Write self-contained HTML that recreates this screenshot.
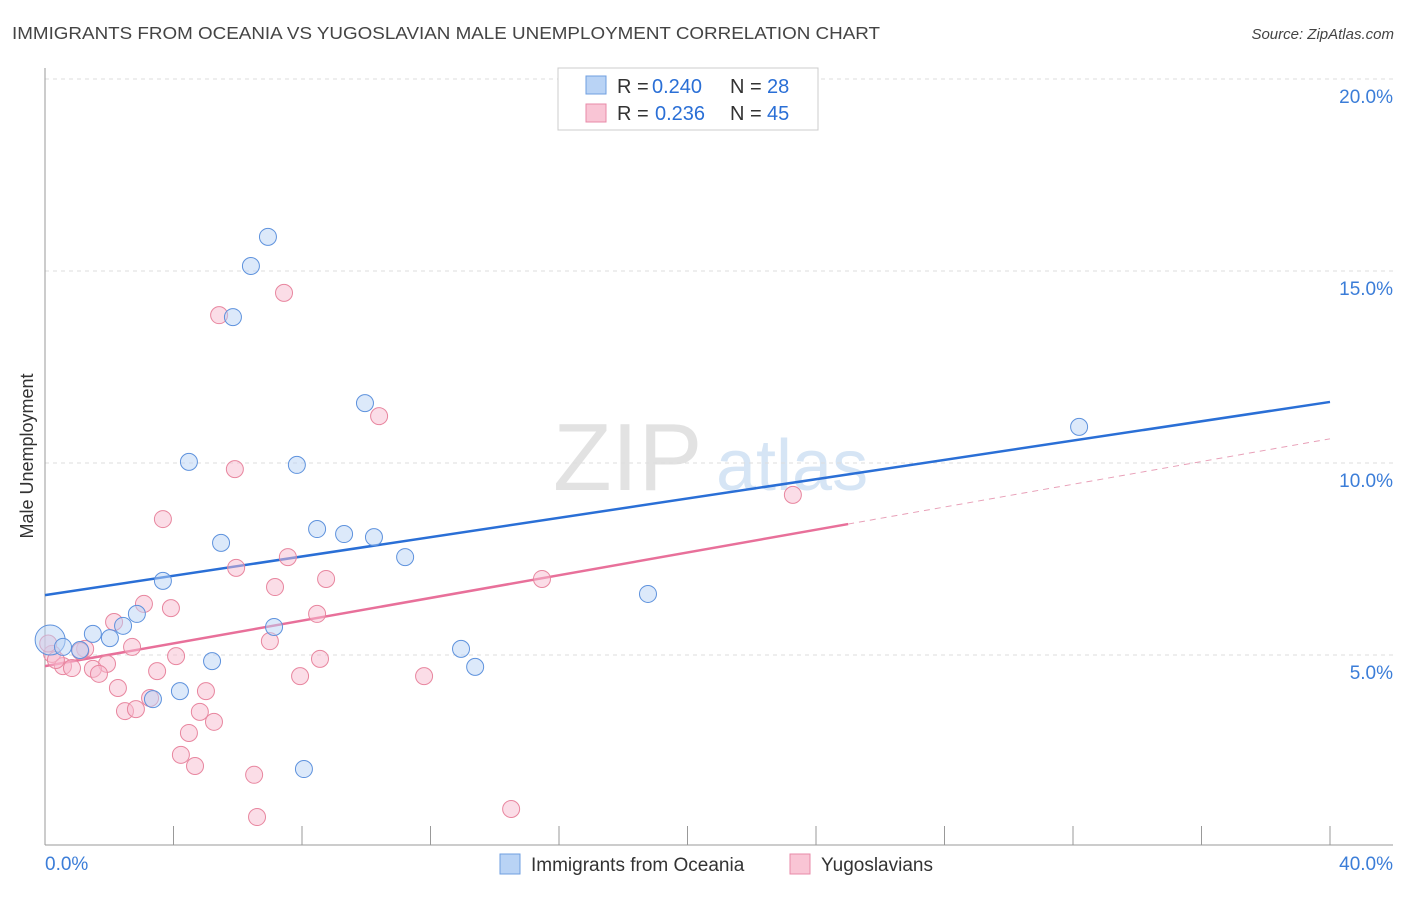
<!DOCTYPE html>
<html><head><meta charset="utf-8">
<style>
body{margin:0;background:#fff;font-family:"Liberation Sans",sans-serif;}
svg text{font-family:"Liberation Sans",sans-serif;}
</style></head>
<body>
<svg id="chart" width="1406" height="892" xmlns="http://www.w3.org/2000/svg">
<text x="12" y="39" font-size="17.5" fill="#444" textLength="868" lengthAdjust="spacingAndGlyphs">IMMIGRANTS FROM OCEANIA VS YUGOSLAVIAN MALE UNEMPLOYMENT CORRELATION CHART</text>
<text x="1394" y="39" font-size="15" fill="#444" text-anchor="end" font-style="italic">Source: ZipAtlas.com</text>
<text transform="translate(33,456) rotate(-90)" font-size="18" fill="#333" text-anchor="middle">Male Unemployment</text>
<g>
<text x="553" y="490" font-size="96" fill="#e2e2e2" font-family="Liberation Serif">ZIP</text>
<text x="716" y="490" font-size="72" fill="#d6e5f5">atlas</text>
</g>
<g id="grid"></g>
<g id="axes"></g>
<g id="lines"></g>
<g id="points"></g>
<g>
<rect x="558" y="68" width="260" height="62" fill="#fff" stroke="#ccc"/>
<rect x="586" y="76" width="20" height="18" fill="#b9d3f5" stroke="#6f9fe0"/>
<rect x="586" y="104" width="20" height="18" fill="#f9c5d5" stroke="#e88aa8"/>
<text y="93" font-size="20" fill="#333"><tspan x="617">R =</tspan><tspan x="652" fill="#2a6fd6">0.240</tspan><tspan x="730">N =</tspan><tspan x="767" fill="#2a6fd6">28</tspan></text>
<text y="120" font-size="20" fill="#333"><tspan x="617">R =</tspan><tspan x="655" fill="#2a6fd6">0.236</tspan><tspan x="730">N =</tspan><tspan x="767" fill="#2a6fd6">45</tspan></text>
</g>
<g>
<rect x="500" y="854" width="20" height="20" fill="#b9d3f5" stroke="#6f9fe0"/>
<text x="531" y="871" font-size="19" fill="#333">Immigrants from Oceania</text>
<rect x="790" y="854" width="20" height="20" fill="#f9c5d5" stroke="#e88aa8"/>
<text x="821" y="871" font-size="19" fill="#333">Yugoslavians</text>
</g>
</svg>
<script>
const blueX=[6.94,6.41,5.85,9.96,32.19,4.48,7.84,8.47,9.31,10.24,5.48,11.21,3.67,18.77,2.86,2.43,7.13,1.49,2.02,0.16,0.56,1.09,12.95,5.20,13.39,4.20,3.36,8.06];
const blueY=[15.89,15.13,13.80,11.56,10.94,10.03,9.95,8.28,8.15,8.07,7.92,7.55,6.93,6.59,6.07,5.76,5.73,5.55,5.44,5.39,5.21,5.13,5.16,4.84,4.69,4.06,3.85,2.03];
const pinkX=[7.44,5.42,10.40,5.91,23.28,3.67,7.56,5.95,8.75,15.47,7.16,3.08,3.92,8.47,2.15,7.00,2.71,1.25,0.22,4.08,8.56,1.93,0.56,0.84,1.49,3.49,1.68,7.94,11.80,2.27,5.01,3.27,4.82,2.49,2.83,5.26,4.48,4.23,4.67,6.51,14.51,6.60,0.34,1.10,0.10];
const pinkY=[14.43,13.85,11.22,9.84,9.17,8.54,7.55,7.27,6.98,6.98,6.77,6.33,6.22,6.07,5.86,5.36,5.21,5.16,5.03,4.97,4.90,4.77,4.71,4.66,4.64,4.58,4.51,4.45,4.45,4.14,4.06,3.88,3.52,3.54,3.59,3.26,2.97,2.40,2.11,1.88,0.99,0.78,4.87,5.10,5.30];
const blueTrend=[6.56,11.59];
const pinkTrend=[4.71,10.63];
const pinkSolidEnd=25;
const yTicks=[5,10,15,20];
const xTickLabels=["0.0%","40.0%"];
const NS="http://www.w3.org/2000/svg";
const sx=v=>45+v*32.125, sy=v=>847-v*38.4;
function mk(tag,attrs,parent){const e=document.createElementNS(NS,tag);for(const k in attrs)e.setAttribute(k,attrs[k]);parent.appendChild(e);return e;}
const grid=document.getElementById('grid'),axes=document.getElementById('axes'),lines=document.getElementById('lines'),pts=document.getElementById('points');
yTicks.forEach(t=>{
 const l=mk('line',{x1:45,x2:1393,y1:sy(t),y2:sy(t),stroke:'#ddd','stroke-dasharray':'4,4'},grid);
 
 
 const tx=mk('text',{x:1393,y:sy(t)+24,'font-size':19,fill:'#3b7dd8','text-anchor':'end'},axes);
 tx.textContent=t.toFixed(1)+'%';
 
 
});
const ax=mk('line',{x1:45,x2:45,y1:68,y2:845,stroke:'#999'},axes);


const bx=mk('line',{x1:45,x2:1393,y1:845,y2:845,stroke:'#999'},axes);


for(let i=0;i<=10;i++){const t=mk('line',{x1:sx(i*4),x2:sx(i*4),y1:826,y2:845,stroke:'#999'},axes);
 
 }
[[0,'start',45],[40,'end',1393]].forEach((d,i)=>{const t=mk('text',{x:d[2],y:870,'font-size':19,fill:'#3b7dd8','text-anchor':d[1]},axes);t.textContent=xTickLabels[i];
 
 });
function pt(xs,ys,fill,stroke,name,big){xs.forEach((x,i)=>{const c=mk('circle',{cx:sx(x),cy:sy(ys[i]),r:(i===big?15:8.5),fill:fill,'fill-opacity':0.5,stroke:stroke,'stroke-width':1},pts);
 
 });}
pt(pinkX,pinkY,'#f7bccf','#e8869f','yugoslavian-point',-1);
pt(blueX,blueY,'#b9d3f5','#5e92dd','oceania-point',19);
const bl=mk('line',{x1:sx(0),y1:sy(blueTrend[0]),x2:sx(40),y2:sy(blueTrend[1]),stroke:'#2a6fd6','stroke-width':2.5},lines);


const py=v=>pinkTrend[0]+(pinkTrend[1]-pinkTrend[0])*v/40;
const pl=mk('line',{x1:sx(0),y1:sy(py(0)),x2:sx(pinkSolidEnd),y2:sy(py(pinkSolidEnd)),stroke:'#e8709a','stroke-width':2.5},lines);


const pd=mk('line',{x1:sx(pinkSolidEnd),y1:sy(py(pinkSolidEnd)),x2:sx(40),y2:sy(py(40)),stroke:'#e8a0b8','stroke-width':1,'stroke-dasharray':'6,5'},lines);


</script>
</body></html>
